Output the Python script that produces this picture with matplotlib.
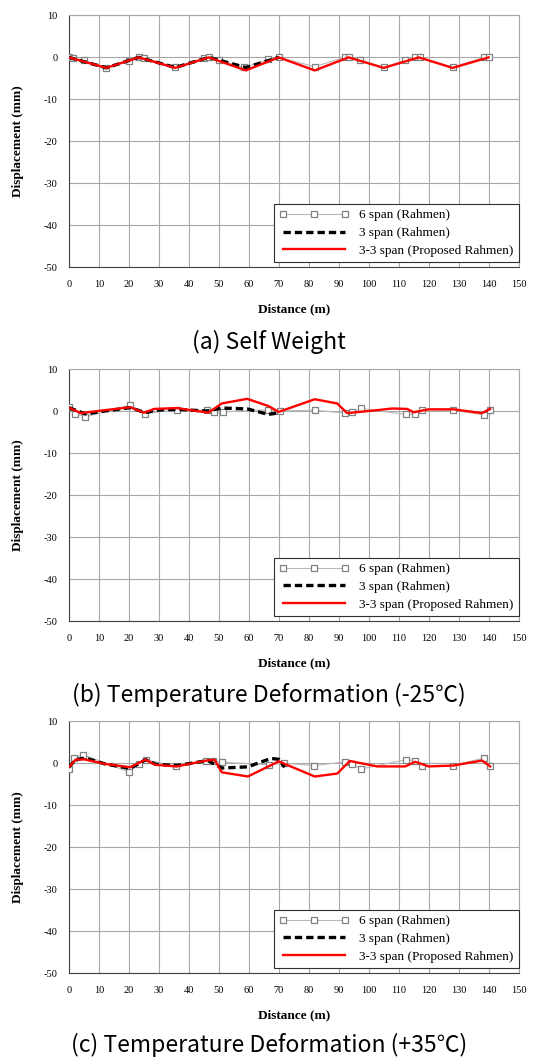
import matplotlib
matplotlib.use("Agg")
import matplotlib.pyplot as plt

plt.rcParams["axes.unicode_minus"] = False

# displacement profiles along the bridge (distance in m, displacement in mm)
# (a) self weight
six_a_x = [0, 1.5, 5, 12.5, 20, 23.3, 25, 35.5, 45, 46.7, 50, 58.5, 66.5, 70, 82,
           92, 93.3, 97, 105, 112, 115.5, 117, 128, 138.5, 140]
six_a_y = [0, -0.1, -0.7, -2.5, -0.8, 0, -0.1, -2.4, -0.2, 0, -0.6, -2.4, -0.5, 0, -2.2,
           0, 0, -0.6, -2.4, -0.7, 0, 0, -2.3, 0, 0]
three_a_x = [0, 12.5, 23.3, 35.5, 46.7, 59, 70]
three_a_y = [0, -2.5, 0, -2.4, 0, -2.4, 0]
prop_a_x = [0, 12.5, 23.3, 35.5, 46.7, 59, 70, 82, 93.3, 105, 116.7, 128, 140]
prop_a_y = [0, -2.5, 0, -2.5, 0, -3.1, 0, -3.1, 0, -2.5, 0, -2.5, 0]

# (b) temperature -25C
six_b_x = [0, 2.2, 5.5, 20.5, 25.5, 36, 46, 48.5, 51.5, 66.5, 70.5, 82,
           92.2, 94.4, 97.4, 112.5, 115.5, 117.8, 128, 138.3, 140.5]
six_b_y = [1.0, -0.6, -1.4, 1.4, -0.6, 0.3, 0.2, -0.3, -0.2, 0.3, 0, 0.2,
           -0.5, -0.3, 0.6, -0.8, -0.7, 0.3, 0.2, -0.9, 0.2]
three_b_x = [0, 5.5, 12, 20.5, 25.5, 29, 36, 46, 51, 59.5, 66.5, 70.5]
three_b_y = [0.8, -0.7, 0, 0.8, -0.4, 0.2, 0.4, 0, 0.7, 0.5, -0.8, -0.4]
prop_b_x = [0, 4, 12, 20.5, 25, 28.5, 36, 46.5, 51, 59.5, 66.5, 70, 82, 89.5, 92.8,
            102.8, 107.8, 112.8, 115, 120, 128.3, 137.8, 140.5]
prop_b_y = [0.8, -0.5, 0.2, 0.9, -0.4, 0.5, 0.7, -0.4, 1.8, 2.9, 1.2, -0.2, 2.8, 1.8, -0.5,
            0.2, 0.6, 0.5, -0.3, 0.4, 0.4, -0.5, 0.5]

# (c) temperature +35C
six_c_x = [0, 1.6, 4.6, 20, 23.3, 25.6, 35.8, 45.8, 48.1, 51.2, 66.6, 71.7, 81.9,
           92.2, 94.4, 97.4, 112.5, 115.5, 117.8, 128.1, 138.3, 140.5]
six_c_y = [-1.5, 1.1, 2.0, -2.1, -0.3, 0.8, -0.8, 0.5, 0.4, 0.2, -0.4, 0, -0.6,
           0.3, -0.2, -1.4, 0.8, 0.6, -0.8, -0.6, 1.2, -0.6]
three_c_x = [0, 2.2, 5.5, 12, 20.4, 25.6, 29, 36, 46.4, 51, 59.7, 67.4, 70, 72]
three_c_y = [-1.0, 0.8, 1.2, -0.2, -1.3, 0.8, -0.3, -0.6, 0.6, -1.2, -0.9, 1.1, 0.9, -1.0]
prop_c_x = [0, 2.2, 5, 12, 20.4, 25.6, 28.7, 35.9, 46, 48.6, 51, 59.7, 70, 82, 89.5, 93.7,
            102.8, 112.2, 115.5, 120, 128.1, 137.8, 140.5]
prop_c_y = [-1.0, 0.8, 0.9, -0.2, -1.0, 0.8, -0.4, -0.8, 0.6, 0.8, -2.2, -3.2, 0.4, -3.2, -2.5, 0.5,
            -0.8, -0.8, 0.3, -0.8, -0.6, 0.6, -0.8]

x_ticks = list(range(0, 151, 10))
y_ticks = list(range(-50, 11, 10))
labels = ["6 span (Rahmen)", "3 span (Rahmen)", "3-3 span (Proposed Rahmen)"]
captions = ["(a) Self Weight", "(b) Temperature Deformation (-25\u2103)",
            "(c) Temperature Deformation (+35\u2103)"]

panels = [
    (six_a_x, six_a_y, three_a_x, three_a_y, prop_a_x, prop_a_y),
    (six_b_x, six_b_y, three_b_x, three_b_y, prop_b_x, prop_b_y),
    (six_c_x, six_c_y, three_c_x, three_c_y, prop_c_x, prop_c_y),
]

SERIF = "Liberation Serif"
fig = plt.figure(figsize=(5.38, 10.61), dpi=100)
bottoms = [0.748, 0.4147, 0.0829]
cap_y = [0.678, 0.345, 0.015]

for k, (data, b) in enumerate(zip(panels, bottoms)):
    sx, sy, tx, ty, px, py = data
    ax = fig.add_axes([0.128, b, 0.836, 0.2375])
    ax.plot(sx, sy, "-", color="#b8b8b8", lw=0.8, marker="s", ms=5, mfc="white",
            mec="#808080", mew=0.9, zorder=3, label=labels[0])
    ax.plot(tx, ty, "--", color="black", lw=2.4, dashes=(2.2, 1.2), zorder=4, label=labels[1])
    ax.plot(px, py, "-", color="#ff0000", lw=1.7, zorder=5, label=labels[2])

    ax.set_xlim(0, 150)
    ax.set_ylim(-50, 10)
    ax.set_xticks(x_ticks)
    ax.set_yticks(y_ticks)
    ax.grid(True, color="#a8a8a8", lw=0.8)
    ax.set_axisbelow(True)
    ax.tick_params(length=0, labelsize=7.5)
    ax.tick_params(axis="x", pad=9)
    ax.tick_params(axis="y", pad=8)
    for t in ax.get_xticklabels() + ax.get_yticklabels():
        t.set_fontfamily(SERIF)
    for side in ["top", "right"]:
        ax.spines[side].set_color("#a8a8a8")
    for side in ["left", "bottom"]:
        ax.spines[side].set_color("#404040")

    ax.text(0.5, -0.167, "Distance (m)", transform=ax.transAxes, ha="center", va="center",
            fontsize=9.5, fontweight="bold", family=SERIF)
    ax.text(-0.113, 0.5, "Displacement (mm)", transform=ax.transAxes, ha="center", va="center",
            rotation=90, fontsize=9.5, fontweight="bold", family=SERIF)

    leg = ax.legend(loc="lower right", bbox_to_anchor=(1.0, 0.02), borderaxespad=0,
                    numpoints=3, handlelength=5.3, handletextpad=0.75, labelspacing=0.42,
                    fancybox=False, framealpha=1, edgecolor="#303030",
                    prop={"family": SERIF, "size": 9.5})
    leg.get_frame().set_linewidth(0.8)

    fig.text(0.5, cap_y[k], captions[k], ha="center", va="center", fontsize=16.5,
             family=["Noto Sans CJK KR", "DejaVu Sans"])

fig.savefig("out.png", dpi=100)
